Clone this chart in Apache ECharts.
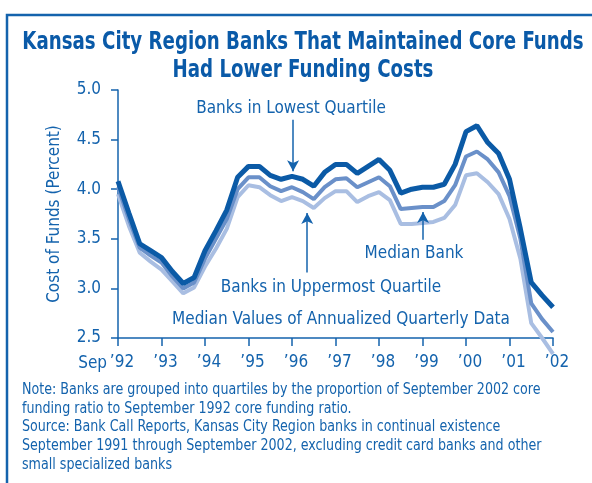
<!DOCTYPE html>
<html>
<head>
<meta charset="utf-8">
<script src="https://cdn.jsdelivr.net/npm/echarts@6/dist/echarts.min.js"></script>
<style>
  html, body { margin: 0; padding: 0; background: #fff; }
  #chart { width: 592px; height: 483px; }
</style>
</head>
<body>
<div id="chart"></div>
<script>
// quarterly, Sep 1992 .. Sep 2002 (41 points)
var tickLabels = ["\u201992", "\u201993", "\u201994", "\u201995", "\u201996", "\u201997", "\u201998", "\u201999", "\u201900", "\u201901", "\u201902"];

var lowestQuartile = [
  4.08, 3.76, 3.45, 3.38, 3.31, 3.17, 3.05, 3.11, 3.38, 3.58,
  3.79, 4.12, 4.23, 4.23, 4.14, 4.10, 4.13, 4.10, 4.03, 4.17,
  4.25, 4.25, 4.16, 4.23, 4.30, 4.19, 3.96, 4.00, 4.02, 4.02,
  4.05, 4.25, 4.58, 4.64, 4.47, 4.36, 4.10, 3.60, 3.06, 2.93,
  2.81
];
var medianBank = [
  4.02, 3.70, 3.41, 3.33, 3.26, 3.12, 3.00, 3.06, 3.30, 3.50,
  3.70, 4.00, 4.12, 4.12, 4.03, 3.98, 4.02, 3.97, 3.90, 4.02,
  4.10, 4.11, 4.02, 4.07, 4.12, 4.03, 3.80, 3.81, 3.82, 3.82,
  3.88, 4.04, 4.33, 4.38, 4.30, 4.17, 3.93, 3.50, 2.85, 2.69,
  2.56
];
var uppermostQuartile = [
  3.95, 3.63, 3.36, 3.27, 3.19, 3.07, 2.95, 3.01, 3.22, 3.40,
  3.60, 3.92, 4.04, 4.02, 3.94, 3.88, 3.92, 3.88, 3.81, 3.91,
  3.98, 3.98, 3.87, 3.93, 3.97, 3.89, 3.65, 3.65, 3.66, 3.67,
  3.71, 3.84, 4.14, 4.16, 4.07, 3.95, 3.70, 3.30, 2.65, 2.50,
  2.34
];

var blue = '#1463ad';
var font = "'Liberation Sans Narrow', 'DejaVu Sans Condensed', sans-serif";

function pairs(arr) {
  return arr.map(function (v, i) { return [i, v]; });
}

var myChart = echarts.init(document.getElementById('chart'));

var arrowLine = {
  silent: true,
  symbol: ['none', 'arrow'],
  symbolSize: [9, 11],
  label: { show: false },
  lineStyle: { color: blue, width: 1.5, type: 'solid' },
  data: [
    [{ coord: [16.1, 4.70] }, { coord: [16.1, 4.18] }],
    [{ coord: [17.4, 3.16] }, { coord: [17.4, 3.76] }],
    [{ coord: [28.05, 3.49] }, { coord: [28.05, 3.77] }]
  ]
};

var option = {
  animation: false,
  grid: { left: 118, top: 90, right: 39, bottom: 145 },
  xAxis: {
    type: 'value',
    min: 0,
    max: 40,
    interval: 4,
    axisLine: { show: true, lineStyle: { color: blue, width: 1.5 } },
    axisTick: { show: true, length: 8, lineStyle: { color: blue, width: 1.5 } },
    splitLine: { show: false },
    axisLabel: {
      color: blue, fontSize: 17, fontFamily: font, margin: 16,
      padding: [0, 0, 0, 8],
      formatter: function (v) { return tickLabels[v / 4]; }
    }
  },
  yAxis: {
    type: 'value',
    min: 2.5,
    max: 5.0,
    interval: 0.5,
    name: 'Cost of Funds (Percent)',
    nameLocation: 'middle',
    nameGap: 55,
    nameRotate: 90,
    nameTextStyle: { color: blue, fontSize: 17, fontFamily: font },
    axisLine: { show: true, lineStyle: { color: blue, width: 1.5 } },
    axisTick: { show: true, length: 7, lineStyle: { color: blue, width: 1.5 } },
    splitLine: { show: false },
    axisLabel: {
      color: blue, fontSize: 17, fontFamily: font, margin: 17,
      formatter: function (v) { return v.toFixed(1); }
    }
  },
  series: [
    {
      name: 'Banks in Uppermost Quartile',
      type: 'line',
      data: pairs(uppermostQuartile),
      symbol: 'none',
      clip: false,
      lineStyle: { color: '#a9bee2', width: 4 },
      z: 2
    },
    {
      name: 'Median Bank',
      type: 'line',
      data: pairs(medianBank),
      symbol: 'none',
      clip: false,
      lineStyle: { color: '#6a90c9', width: 4 },
      z: 3
    },
    {
      name: 'Banks in Lowest Quartile',
      type: 'line',
      data: pairs(lowestQuartile),
      symbol: 'none',
      clip: false,
      lineStyle: { color: '#0b5aa6', width: 5 },
      markLine: arrowLine,
      z: 4
    }
  ],
  graphic: [
    {
      type: 'rect', silent: true, z: -1,
      shape: { x: 7, y: 15, width: 620, height: 520 },
      style: { fill: 'none', stroke: blue, lineWidth: 2.5 }
    },
    {
      type: 'text', x: 303, y: 28, scaleX: 0.81,
      style: {
        text: 'Kansas City Region Banks That Maintained Core Funds\nHad Lower Funding Costs',
        fill: '#0a5aa8', font: 'bold 25px ' + font, textAlign: 'center', lineHeight: 28
      }
    },
    {
      type: 'text', x: 291, y: 109,
      style: { text: 'Banks in Lowest Quartile', fill: blue, font: '17px ' + font, textAlign: 'center', textVerticalAlign: 'middle' }
    },
    {
      type: 'text', x: 331, y: 288,
      style: { text: 'Banks in Uppermost Quartile', fill: blue, font: '17px ' + font, textAlign: 'center', textVerticalAlign: 'middle' }
    },
    {
      type: 'text', x: 414, y: 254,
      style: { text: 'Median Bank', fill: blue, font: '17px ' + font, textAlign: 'center', textVerticalAlign: 'middle' }
    },
    {
      type: 'text', x: 341, y: 320,
      style: { text: 'Median Values of Annualized Quarterly Data', fill: blue, font: '17px ' + font, textAlign: 'center', textVerticalAlign: 'middle' }
    },
    {
      type: 'text', x: 107, y: 364,
      style: { text: 'Sep', fill: blue, font: '17px ' + font, textAlign: 'right', textVerticalAlign: 'middle' }
    },
    {
      type: 'text', x: 22, y: 381, scaleX: 0.94,
      style: {
        text: 'Note: Banks are grouped into quartiles by the proportion of September 2002 core\n' +
              'funding ratio to September 1992 core funding ratio.\n' +
              'Source: Bank Call Reports, Kansas City Region banks in continual existence\n' +
              'September 1991 through September 2002, excluding credit card banks and other\n' +
              'small specialized banks',
        fill: blue, font: '15px ' + font, lineHeight: 18.6
      }
    }
  ]
};

option && myChart.setOption(option);
</script>
</body>
</html>
